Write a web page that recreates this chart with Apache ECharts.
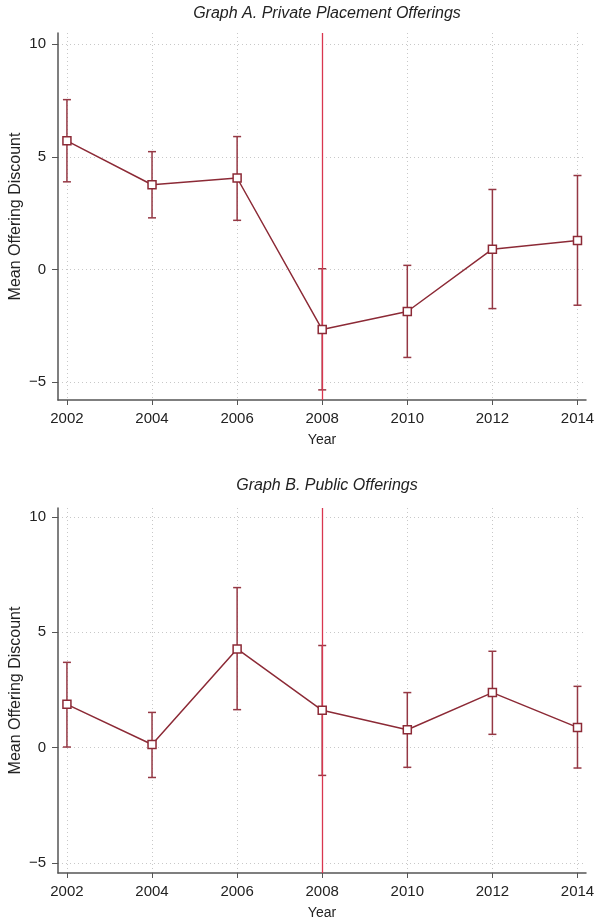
<!DOCTYPE html>
<html>
<head>
    <meta charset="utf-8">
    <title>Mean Offering Discount</title>
    <script src="https://cdn.jsdelivr.net/npm/echarts@6/dist/echarts.min.js"></script>
    <style>
        html, body { margin: 0; padding: 0; background: #fff; }
        #main { width: 594px; height: 921px; }
    </style>
</head>
<body>
<div id="main"></div>
<script type="text/javascript">
    // 数据
    var years = [2002, 2004, 2006, 2008, 2010, 2012, 2014];
    var yTicks = [-5, 0, 5, 10];

    var privMean = [5.71, 3.76, 4.06, -2.67, -1.87, 0.90, 1.28];
    var privLow  = [3.89, 2.29, 2.18, -5.35, -3.91, -1.74, -1.59];
    var privHigh = [7.54, 5.23, 5.90, 0.03, 0.18, 3.55, 4.17];

    var pubMean = [1.88, 0.14, 4.28, 1.62, 0.78, 2.39, 0.88];
    var pubLow  = [0.03, -1.29, 1.65, -1.20, -0.85, 0.58, -0.88];
    var pubHigh = [3.70, 1.53, 6.94, 4.43, 2.39, 4.18, 2.66];

    var crisisYear = 2008;

    var lineColor = '#8c2a36';
    var barColor = '#953844';
    var redLine = '#d9364f';
    var fontFam = '"Liberation Sans", Arial, sans-serif';

    var myChart = echarts.init(document.getElementById('main'));

    function pairs(ys) {
        return years.map(function (y, i) { return [y, ys[i]]; });
    }
    function errData(lo, hi) {
        return years.map(function (y, i) { return [y, lo[i], hi[i]]; });
    }
    function renderErr(params, api) {
        var x = api.value(0);
        var pLo = api.coord([x, api.value(1)]);
        var pHi = api.coord([x, api.value(2)]);
        var hw = 4;
        var st = { stroke: barColor, lineWidth: 1.5 };
        return {
            type: 'group',
            children: [
                { type: 'line', shape: { x1: pLo[0], y1: pLo[1], x2: pHi[0], y2: pHi[1] }, style: st },
                { type: 'line', shape: { x1: pHi[0] - hw, y1: pHi[1], x2: pHi[0] + hw, y2: pHi[1] }, style: st },
                { type: 'line', shape: { x1: pLo[0] - hw, y1: pLo[1], x2: pLo[0] + hw, y2: pLo[1] }, style: st }
            ]
        };
    }

    function xAxisCfg(idx) {
        return {
            type: 'value', gridIndex: idx, min: 2001.79, max: 2014.2,
            name: 'Year', nameLocation: 'middle', nameGap: 33,
            nameTextStyle: { fontFamily: fontFam, fontSize: 14, color: '#222' },
            axisLine: { onZero: false, lineStyle: { color: '#555', width: 1.5 } },
            axisTick: { show: true, length: 5, customValues: years, lineStyle: { color: '#555' } },
            axisLabel: {
                customValues: years, margin: 11, fontFamily: fontFam, fontSize: 15, color: '#222',
                formatter: function (v) { return String(v); }
            },
            splitLine: { show: true, lineStyle: { type: [1, 3], color: '#c8c8c8' } }
        };
    }
    function yAxisCfg(idx, mn, mx) {
        return {
            type: 'value', gridIndex: idx, min: mn, max: mx,
            name: 'Mean Offering Discount', nameLocation: 'middle', nameGap: 34,
            nameMoveOverlap: false,
            nameTextStyle: { fontFamily: fontFam, fontSize: 16, color: '#222' },
            axisLine: { show: true, onZero: false, lineStyle: { color: '#555', width: 1.5 } },
            axisTick: { show: true, length: 6, customValues: yTicks, lineStyle: { color: '#555' } },
            axisLabel: {
                customValues: yTicks, margin: 12, fontFamily: fontFam, fontSize: 15, color: '#222',
                formatter: function (v) { return v < 0 ? '\u2212' + Math.abs(v) : String(v); }
            },
            splitLine: { show: true, lineStyle: { type: [1, 3], color: '#c8c8c8' } }
        };
    }
    function crisisSeries(idx) {
        return {
            type: 'line', xAxisIndex: idx, yAxisIndex: idx, data: [], z: 2,
            markLine: {
                silent: true, symbol: 'none', label: { show: false },
                lineStyle: { color: redLine, width: 1.3, type: 'solid' },
                data: [{ xAxis: crisisYear }]
            }
        };
    }
    function lineSeries(idx, data) {
        return {
            type: 'line', xAxisIndex: idx, yAxisIndex: idx, data: data, z: 5,
            symbol: 'rect', symbolSize: 8,
            lineStyle: { color: lineColor, width: 1.5 },
            itemStyle: { color: '#fff', borderColor: lineColor, borderWidth: 1.5 }
        };
    }
    function errSeries(idx, data) {
        return {
            type: 'custom', xAxisIndex: idx, yAxisIndex: idx, z: 4,
            renderItem: renderErr, encode: { x: 0, y: [1, 2] }, data: data
        };
    }

    var option = {
        animation: false,
        title: [
            { text: 'Graph A. Private Placement Offerings', left: 322, top: 1, textAlign: 'center',
              textStyle: { fontFamily: fontFam, fontSize: 16, fontStyle: 'italic', fontWeight: 'normal', color: '#222' } },
            { text: 'Graph B. Public Offerings', left: 322, top: 473, textAlign: 'center',
              textStyle: { fontFamily: fontFam, fontSize: 16, fontStyle: 'italic', fontWeight: 'normal', color: '#222' } }
        ],
        grid: [
            { left: 58, right: 8, top: 33, height: 367, containLabel: false, outerBoundsMode: 'none' },
            { left: 58, right: 8, top: 508, height: 365, containLabel: false, outerBoundsMode: 'none' }
        ],
        xAxis: [xAxisCfg(0), xAxisCfg(1)],
        yAxis: [yAxisCfg(0, -5.8, 10.5), yAxisCfg(1, -5.43, 10.39)],
        series: [
            crisisSeries(0),
            errSeries(0, errData(privLow, privHigh)),
            lineSeries(0, pairs(privMean)),
            crisisSeries(1),
            errSeries(1, errData(pubLow, pubHigh)),
            lineSeries(1, pairs(pubMean))
        ]
    };

    myChart.setOption(option);
</script>
</body>
</html>
